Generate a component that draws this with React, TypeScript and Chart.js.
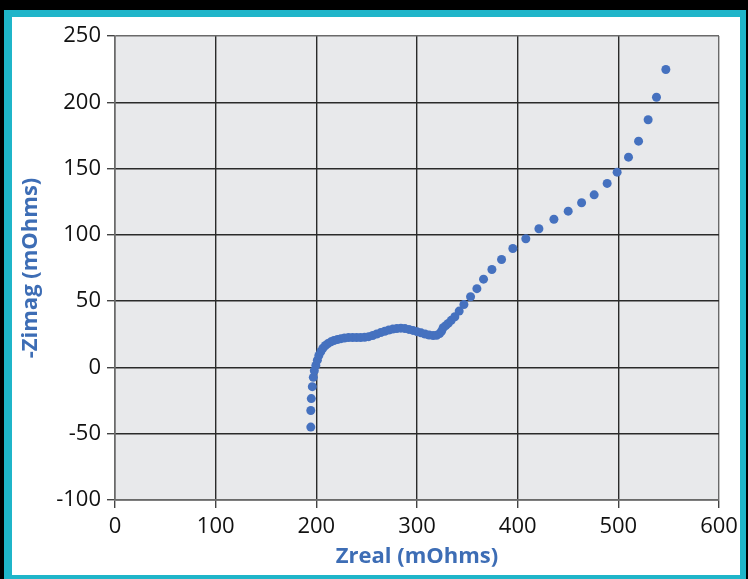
import React, { useEffect, useRef } from "react";
import { Chart, registerables } from "chart.js";

Chart.register(...registerables);

const zReal: number[] = [
  194.5, 194.5, 195, 196, 197, 198, 199.5, 201, 202.5, 204.5, 206.5, 209, 211.5, 214.5,
  217.5, 221, 224.5, 228, 232, 236, 240, 244, 248, 252, 256, 260, 264, 268, 272, 276,
  280, 284, 288, 292, 296, 300, 304, 308, 312, 316, 319.5, 322.5, 324.5, 326, 328.5,
  331, 334, 337.6, 341.9, 346.6, 353.2, 359.5, 366.1, 374.4, 384, 395.2, 408.1, 421.1,
  436, 450.2, 463.5, 476, 488.9, 498.8, 510.1, 520.1, 529.6, 537.9, 547.2,
];
const zImag: number[] = [
  -45, -32.5, -23.5, -14.5, -7.5, -2.5, 1.5, 5.5, 9, 12, 14.5, 16.5, 18, 19.3,
  20.3, 21.1, 21.7, 22.2, 22.5, 22.6, 22.6, 22.6, 22.7, 23.2, 24.1, 25.2, 26.3, 27.3, 28.2, 28.9,
  29.4, 29.6, 29.3, 28.7, 27.9, 27, 26.1, 25.2, 24.5, 24, 24.2, 25.5, 27.5, 29.9, 31.5,
  33.2, 35.5, 38.2, 42.5, 47.5, 53.3, 59.4, 66.6, 73.9, 81.4, 89.7, 97.1, 104.6,
  111.8, 117.9, 124.2, 130.2, 138.8, 147.3, 158.6, 170.7, 186.8, 203.8, 224.7,
];
const xTitle = "Zreal (mOhms)";
const yTitle = "-Zimag (mOhms)";

const plotBg = {
  id: "plotBg",
  beforeDraw(chart: any) {
    const { ctx, chartArea } = chart;
    ctx.save();
    ctx.fillStyle = "#E8E9EB";
    ctx.fillRect(chartArea.left, chartArea.top, chartArea.right - chartArea.left, chartArea.bottom - chartArea.top);
    ctx.restore();
  },
};

export default function App() {
  const ref = useRef<HTMLCanvasElement>(null);
  useEffect(() => {
    if (!ref.current) return;
    const gridColor = (c: any) => (c.tick && (c.tick.value === 250 || c.tick.value === 600) ? "#6a6a6a" : "#2a2a2a");
    const chart = new Chart(ref.current, {
      type: "scatter",
      data: {
        datasets: [
          {
            data: zReal.map((x, i) => ({ x, y: zImag[i] })),
            backgroundColor: "#4571BF",
            borderColor: "#4571BF",
            pointRadius: 4.5,
            borderWidth: 0,
          },
        ],
      },
      plugins: [plotBg],
      options: {
        animation: false,
        responsive: false,
        devicePixelRatio: 1,
        layout: { padding: { left: 0, top: 36, right: 29, bottom: 0 } },
        plugins: { legend: { display: false }, tooltip: { enabled: false } },
        scales: {
          x: {
            type: "linear",
            min: 0,
            max: 600,
            ticks: { stepSize: 100, color: "#111", padding: 6, font: { family: "Open Sans", size: 22 } },
            grid: { color: gridColor, lineWidth: 1.4, tickLength: 8, tickColor: "#444" },
            border: { color: "#6a6a6a", width: 1.4 },
            title: {
              display: true,
              text: xTitle,
              color: "#3D6DB5",
              font: { family: "Open Sans", size: 22, weight: "bold" },
              padding: { top: 0, bottom: 9 },
            },
            afterFit: (s: any) => {
              s.height = 79;
            },
          },
          y: {
            type: "linear",
            min: -100,
            max: 250,
            ticks: { stepSize: 50, color: "#111", padding: 6, font: { family: "Open Sans", size: 22 } },
            grid: { color: gridColor, lineWidth: 1.4, tickLength: 8, tickColor: "#444" },
            border: { color: "#6a6a6a", width: 1.4 },
            title: {
              display: true,
              text: yTitle,
              color: "#3D6DB5",
              font: { family: "Open Sans", size: 22, weight: "bold" },
              padding: { top: 18, bottom: 0 },
            },
            afterFit: (s: any) => {
              s.width = 115;
            },
          },
        },
      },
    });
    return () => chart.destroy();
  }, []);

  return (
    <div style={{ position: "fixed", left: 0, top: 0, width: 748, height: 579, background: "#000", overflow: "hidden" }}>
      <div
        style={{
          position: "absolute",
          left: 4,
          top: 10,
          width: 742,
          height: 569,
          boxSizing: "border-box",
          background: "#fff",
          borderStyle: "solid",
          borderColor: "#1FB5C9",
          borderWidth: "7px 6px 4px 8px",
        }}
      />
      <canvas ref={ref} width={748} height={579} style={{ position: "absolute", left: 0, top: 0, width: 748, height: 579 }} />
    </div>
  );
}
